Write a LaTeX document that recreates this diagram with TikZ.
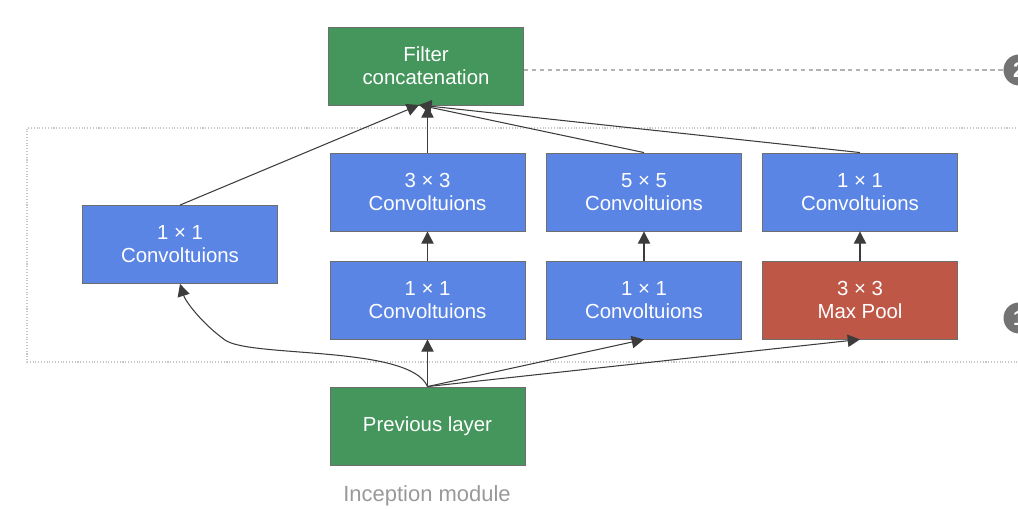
\documentclass[tikz,border=0pt]{standalone}
\usepackage{fontspec}
\setmainfont{Liberation Sans}
\usetikzlibrary{arrows.meta}
\definecolor{boxgreen}{RGB}{69,150,92}
\definecolor{boxblue}{RGB}{90,133,228}
\definecolor{boxred}{RGB}{191,87,71}
\definecolor{edgegray}{RGB}{110,110,110}
\definecolor{arrowgray}{RGB}{60,60,60}
\begin{document}
\begin{tikzpicture}[x=0.02cm,y=-0.02cm,
  blk/.style={draw=edgegray, line width=0.5pt, minimum width=3.9cm, minimum height=1.56cm, inner sep=0pt,
    text=white, align=center, font=\fontsize{11.6}{13}\selectfont},
  gbox/.style={blk, fill=boxgreen},
  bbox/.style={blk, fill=boxblue},
  rbox/.style={blk, fill=boxred},
  arr/.style={draw=arrowgray, line width=0.6pt, -{Triangle[length=7pt,width=7pt]}},
  frame/.style={draw=black!22, line width=0.6pt, densely dotted},
  dline/.style={draw=black!30, line width=0.6pt, dash pattern=on 2.5pt off 2pt},
  badge/.style={circle, fill=black!55, minimum size=0.62cm, inner sep=0pt, text=white, font=\bfseries\fontsize{12}{14}\selectfont}
]
\useasboundingbox (0,0) rectangle (1018,509);
% dotted frame
\draw[frame] (1030,128) -- (27,128) -- (27,362) -- (1030,362);
% nodes
\node[gbox] (concat) at (426,66) {Filter\\concatenation};
\node[bbox] (left) at (180,244.5) {1 × 1\\Convoltuions};
\node[bbox] (c33) at (427.5,192) {3 × 3\\Convoltuions};
\node[bbox] (c55) at (644,192) {5 × 5\\Convoltuions};
\node[bbox] (c11r) at (860,192) {1 × 1\\Convoltuions};
\node[bbox] (r33) at (427.5,300) {1 × 1\\Convoltuions};
\node[bbox] (r55) at (644,300) {1 × 1\\Convoltuions};
\node[rbox] (pool) at (860,300) {3 × 3\\Max Pool};
\node[gbox] (prev) at (427.5,426) {Previous layer};
\node[text=black!40, font=\fontsize{12.5}{14}\selectfont] (cap) at (427,496) {Inception module};
% badges
\node[badge] (b2) at (1019,70) {2};
\node[badge] (b1) at (1019,318) {1};
\draw[dline] (concat.east |- b2.center) -- (b2.west);
% connectors bottom
\coordinate (src) at (prev.north);
\draw[arr] (src) .. controls (410,345) and (250,358) .. (225,340) .. controls (200,322) and (185,300) .. (left.south);
\draw[arr] (src) -- (r33.south);
\draw[arr] (src) -- (r55.south);
\draw[arr] (src) -- (pool.south);
% middle
\draw[arr] (r33.north) -- (c33.south);
\draw[arr] (r55.north) -- (c55.south);
\draw[arr] (pool.north) -- (c11r.south);
% top
\coordinate (tgt) at (419,105);
\draw[arr] (left.north) -- (tgt);
\draw[arr] (c33.north) -- (c33.north |- concat.south);
\draw[arr] (c55.north) -- (tgt);
\draw[arr] (c11r.north) -- (tgt);
\end{tikzpicture}
\end{document}
